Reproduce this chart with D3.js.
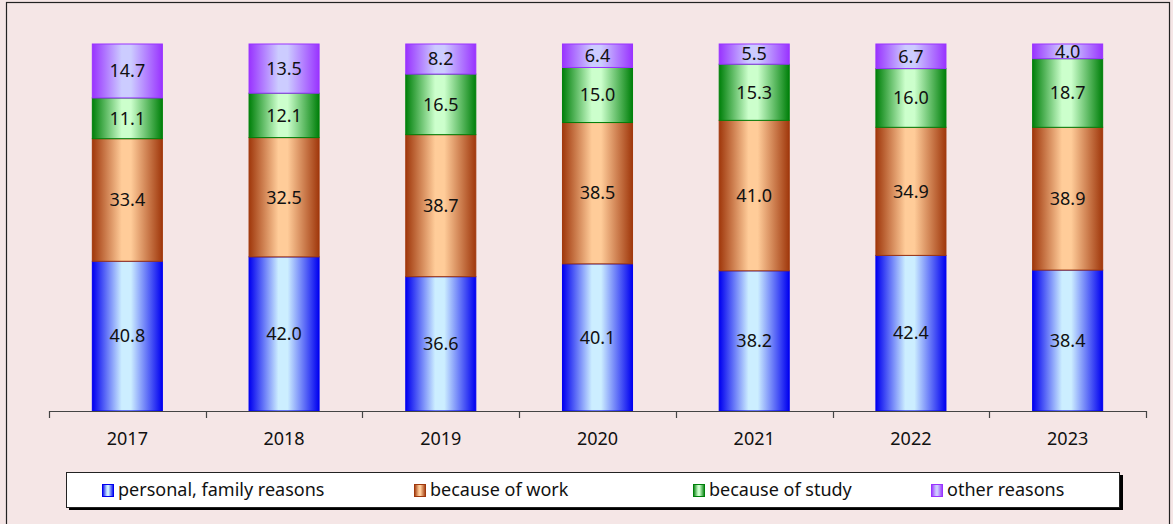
<!DOCTYPE html>
<html>
<head>
<meta charset="utf-8">
<script src="https://cdn.jsdelivr.net/npm/d3@7"></script>
<style>
  body { margin: 0; background: #f5e6e6; }
  svg { display: block; font-family: "Noto Sans", "Open Sans", sans-serif; }
</style>
</head>
<body>
<svg width="1173" height="524"></svg>
<script>
"use strict";

// Chart data
var years = ["2017", "2018", "2019", "2020", "2021", "2022", "2023"];
var seriesNames = ["personal, family reasons", "because of work", "because of study", "other reasons"];
var personal = [40.8, 42.0, 36.6, 40.1, 38.2, 42.4, 38.4];
var work     = [33.4, 32.5, 38.7, 38.5, 41.0, 34.9, 38.9];
var study    = [11.1, 12.1, 16.5, 15.0, 15.3, 16.0, 18.7];
var other    = [14.7, 13.5, 8.2, 6.4, 5.5, 6.7, 4.0];

// edge / middle colours of each series gradient
var edgeColors  = ["#0000f0", "#a0380c", "#00800a", "#9933ff"];
var lightColors = ["#cceeff", "#ffcc99", "#ccffcc", "#ccccff"];

var rows = years.map(function(y, i) {
    return { year: y, s0: personal[i], s1: work[i], s2: study[i], s3: other[i] };
});

var svg = d3.select("svg");

// Outer frame
svg.append("rect")
    .attr("x", 6.5).attr("y", 2.5)
    .attr("width", 1163).attr("height", 530)
    .attr("fill", "none")
    .attr("stroke", "#222")
    .attr("stroke-width", 1.2);

// Gradients
var defs = svg.append("defs");
edgeColors.forEach(function(c, i) {
    var g = defs.append("linearGradient")
        .attr("id", "grad" + i)
        .attr("x1", "0").attr("x2", "1").attr("y1", "0").attr("y2", "0");
    g.append("stop").attr("offset", "0%").attr("stop-color", c);
    g.append("stop").attr("offset", "42%").attr("stop-color", lightColors[i]);
    g.append("stop").attr("offset", "55%").attr("stop-color", lightColors[i]);
    g.append("stop").attr("offset", "100%").attr("stop-color", c);
});

// Scales
var xScale = d3.scaleBand()
    .domain(years)
    .range([49, 1146])
    .paddingInner(0.553)
    .paddingOuter(0.2765);

var yScale = d3.scaleLinear()
    .domain([0, 100])
    .range([411, 44]);

var stack = d3.stack().keys(["s0", "s1", "s2", "s3"]);
var stacked = stack(rows);

var chart = svg.append("g").attr("class", "chart");

var layers = chart.selectAll("g.layer")
    .data(stacked)
    .enter().append("g")
    .attr("class", "layer");

layers.selectAll("rect")
    .data(function(d) { return d.map(function(p) { return { p: p, k: d.index }; }); })
    .enter().append("rect")
    .attr("x", function(d) { return xScale(d.p.data.year); })
    .attr("y", function(d) { return yScale(Math.min(d.p[1], 100)); })
    .attr("width", xScale.bandwidth())
    .attr("height", function(d) { return yScale(d.p[0]) - yScale(Math.min(d.p[1], 100)); })
    .attr("fill", function(d) { return "url(#grad" + d.k + ")"; })
    .attr("stroke", function(d) { return edgeColors[d.k]; })
    .attr("stroke-width", 1);

// Value labels
layers.selectAll("text")
    .data(function(d) { return d.map(function(p) { return { p: p, k: d.index }; }); })
    .enter().append("text")
    .attr("x", function(d) { return xScale(d.p.data.year) + xScale.bandwidth() / 2; })
    .attr("y", function(d) { return (yScale(d.p[0]) + yScale(Math.min(d.p[1], 100))) / 2; })
    .attr("dy", "0.35em")
    .attr("text-anchor", "middle")
    .style("font-size", "18px")
    .style("fill", "#111")
    .text(function(d) { return (d.p[1] - d.p[0]).toFixed(1); });

// Category axis with ticks between bars
var axisG = chart.append("g").attr("class", "axis");
axisG.append("line")
    .attr("x1", 49).attr("x2", 1146)
    .attr("y1", 411.5).attr("y2", 411.5)
    .attr("stroke", "#444").attr("stroke-width", 1.2);

var tickPos = years.map(function(y) { return xScale(y) - xScale.step() * xScale.paddingInner() / 2; });
tickPos.push(1146);
axisG.selectAll("line.tick")
    .data(tickPos)
    .enter().append("line")
    .attr("class", "tick")
    .attr("x1", function(d) { return Math.round(d) + 0.5; })
    .attr("x2", function(d) { return Math.round(d) + 0.5; })
    .attr("y1", 411).attr("y2", 418)
    .attr("stroke", "#444").attr("stroke-width", 1.2);

axisG.selectAll("text")
    .data(years)
    .enter().append("text")
    .attr("x", function(d) { return xScale(d) + xScale.bandwidth() / 2; })
    .attr("y", 439)
    .attr("dy", "0.35em")
    .attr("text-anchor", "middle")
    .style("font-size", "18px")
    .style("fill", "#111")
    .text(function(d) { return d; });

// Legend
var legend = svg.append("g").attr("class", "legend");
legend.append("rect")
    .attr("x", 69).attr("y", 475)
    .attr("width", 1054).attr("height", 35)
    .attr("fill", "#000");
legend.append("rect")
    .attr("x", 66.5).attr("y", 472.5)
    .attr("width", 1053).attr("height", 35)
    .attr("fill", "#fff")
    .attr("stroke", "#222");

var legendX = [102, 414, 693, 931];
var items = legend.selectAll("g.item")
    .data(seriesNames)
    .enter().append("g")
    .attr("class", "item")
    .attr("transform", function(d, i) { return "translate(" + legendX[i] + ",0)"; });

items.append("rect")
    .attr("x", 0.5).attr("y", 484.5)
    .attr("width", 11).attr("height", 12)
    .attr("fill", function(d, i) { return "url(#grad" + i + ")"; })
    .attr("stroke", function(d, i) { return edgeColors[i]; });

items.append("text")
    .attr("x", 16)
    .attr("y", 490)
    .attr("dy", "0.35em")
    .style("font-size", "18px")
    .style("fill", "#111")
    .text(function(d) { return d; });
</script>
</body>
</html>
